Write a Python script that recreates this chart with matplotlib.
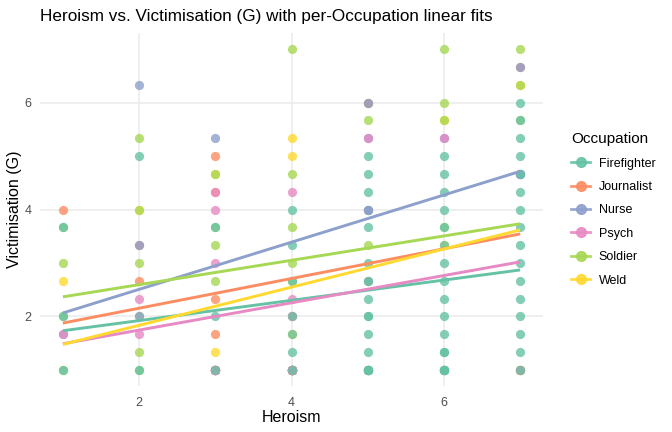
import numpy as np
import matplotlib
matplotlib.use('Agg')
import matplotlib.pyplot as plt
from matplotlib.lines import Line2D

plt.rcParams['font.family'] = ['Liberation Sans', 'DejaVu Sans']

occupations = ['Firefighter', 'Journalist', 'Nurse', 'Psych', 'Soldier', 'Weld']
colors = ['#66C2A5', '#FC8D62', '#8DA0CB', '#E78AC3', '#A6D854', '#FFD92F']

# Heroism (x) and Victimisation G (y) per occupation
firefighter_x = [1, 1, 1, 2, 2, 3, 3, 3, 4, 4, 4, 4, 4, 4, 4]
firefighter_x += [5] * 19 + [6] * 20 + [7] * 16
firefighter_y = [3.67, 1.0, 2.0, 5.0, 1.0, 3.67, 2.0, 1.0,
                 4.0, 3.33, 2.0, 1.67, 1.33, 1.0, 2.67,
                 5.0, 4.67, 4.33, 3.67, 3.0, 2.67, 2.33, 2.0, 2.0, 1.67, 1.33,
                 1.0, 1.0, 1.0, 1.0, 1.0, 1.0, 1.0, 1.0,
                 5.0, 4.67, 4.33, 4.0, 3.67, 3.33, 3.0, 2.67, 2.33, 2.0, 1.67, 1.33, 1.33,
                 1.0, 1.0, 1.0, 1.0, 1.0, 1.0, 1.0,
                 6.0, 5.67, 5.33, 5.0, 4.67, 4.33, 4.0, 3.67, 3.33, 3.0, 2.67, 2.33,
                 2.0, 1.67, 1.33, 1.0]

journalist_x = [1, 2, 2, 3, 3, 3, 3, 3, 3, 3, 3, 3, 3, 4, 4, 5, 7, 7]
journalist_y = [4.0, 2.67, 3.33, 5.0, 4.33, 2.33, 1.67, 1.0, 1.0, 1.0, 1.0, 1.0, 1.0,
                1.0, 2.0, 6.0, 6.67, 1.0]

nurse_x = [1, 2, 2, 2, 3, 3, 4, 4, 4, 5, 5, 5, 5, 5, 5, 5, 6, 7, 7, 7, 7, 7, 7]
nurse_y = [1.67, 6.33, 3.33, 2.0, 5.33, 1.0, 1.0, 1.0, 1.0,
           6.0, 5.33, 2.67, 1.0, 4.0, 4.0, 4.0, 5.33,
           6.67, 4.67, 4.67, 4.67, 4.67, 4.67]

psych_x = [1, 2, 2, 3, 3, 3, 3, 3, 3, 3, 3, 4, 4, 4, 4, 4, 4, 4, 4, 5, 6, 7]
psych_y = [1.67, 2.33, 1.67, 4.33, 4.0, 3.0, 1.0, 1.0, 1.0, 1.0, 1.0,
           4.33, 2.33, 1.0, 1.0, 1.0, 1.0, 1.0, 2.0, 5.33, 5.33, 1.0]

soldier_x = [1, 1, 1, 1, 2, 2, 2, 2, 2, 2, 3, 3, 3, 3] + [4] * 13 + [5] * 5 + [6] * 5 + [7] * 7
soldier_y = [3.67, 3.0, 2.0, 1.0, 5.33, 4.0, 3.0, 2.0, 1.33, 1.0, 4.67, 3.67, 3.33, 2.67,
             7.0, 4.67, 3.67, 3.0, 2.67, 1.0, 1.0, 1.0, 1.0, 1.0, 1.0, 1.0, 1.0,
             6.0, 5.67, 4.0, 3.33, 1.0,
             7.0, 6.0, 5.67, 3.67, 1.0,
             7.0, 6.33, 5.67, 1.0, 1.0, 1.0, 1.0]

weld_x = [1, 2, 3, 3, 3, 4, 4, 4, 4, 4, 4, 4, 4, 4, 4, 5, 6, 6, 6, 7]
weld_y = [2.67, 4.0, 4.67, 1.33, 1.0, 5.33, 5.0, 1.0, 1.0, 1.0, 1.0, 1.0, 1.0, 1.0, 1.67,
          2.67, 5.67, 1.0, 3.33, 6.33]

xs = [firefighter_x, journalist_x, nurse_x, psych_x, soldier_x, weld_x]
ys = [firefighter_y, journalist_y, nurse_y, psych_y, soldier_y, weld_y]

fig = plt.figure(figsize=(6.72, 4.32), dpi=100)
ax = fig.add_axes([40 / 672, 46 / 432, 503 / 672, 353 / 432])

# drawing order of the point layers (firefighter last, on top)
order = [5, 4, 1, 2, 3, 0]
for i in order:
    ax.scatter(xs[i], ys[i], s=44, color=colors[i], alpha=0.8, linewidths=0, zorder=2)

# per-occupation linear fits
for i in range(len(occupations)):
    x = np.array(xs[i], dtype=float)
    y = np.array(ys[i], dtype=float)
    slope, intercept = np.polyfit(x, y, 1)
    xx = np.array([x.min(), x.max()])
    ax.plot(xx, intercept + slope * xx, color=colors[i], lw=2.1, zorder=3, solid_capstyle='butt')

ax.set_xlim(0.7, 7.3)
ax.set_ylim(0.7, 7.3)
ax.set_xticks([2, 4, 6])
ax.set_yticks([2, 4, 6])
ax.grid(True, color='#EBEBEB', lw=1.1, zorder=0)
ax.set_axisbelow(True)
for sp in ax.spines.values():
    sp.set_visible(False)
ax.tick_params(length=0, labelsize=9, labelcolor='#4D4D4D', pad=6)
ax.tick_params(axis='x', pad=8)
ax.set_xlabel('Heroism', fontsize=11.5, labelpad=1)
ax.set_ylabel('Victimisation (G)', fontsize=11.5, labelpad=2)
ax.set_title('Heroism vs. Victimisation (G) with per-Occupation linear fits',
             fontsize=12.3, loc='left', pad=9)

handles = [Line2D([0], [0], color=c, lw=2, marker='o', markersize=7, alpha=0.9) for c in colors]
leg = fig.legend(handles, occupations, title='Occupation', loc='upper left',
                 bbox_to_anchor=(560 / 672, 1 - 121 / 432), frameon=False,
                 fontsize=9, title_fontsize=11, handlelength=1.5, handletextpad=0.7,
                 labelspacing=0.91, alignment='left')

fig.savefig('out.png', dpi=100)
